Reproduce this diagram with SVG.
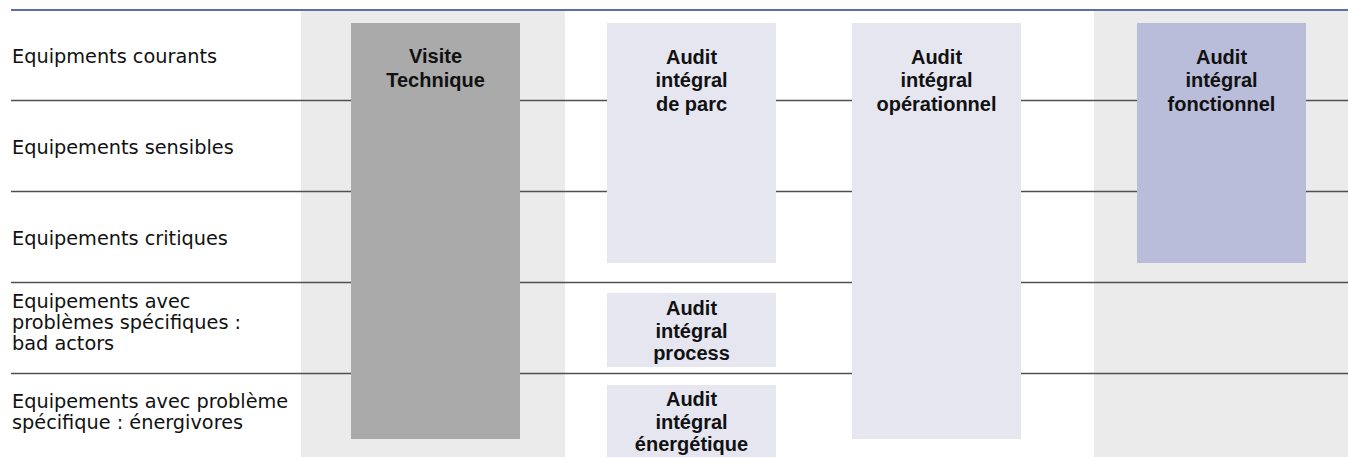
<svg xmlns="http://www.w3.org/2000/svg" width="1348" height="457" viewBox="0 0 1348 457">
<style>
.lbl{font-family:"DejaVu Sans","Liberation Sans",sans-serif;font-size:19.3px;fill:#111}
.box{font-family:"Liberation Sans",Arial,sans-serif;font-size:20px;font-weight:bold;fill:#111;text-anchor:middle}
.row{stroke:#505050;stroke-width:1.4;fill:none}
.lav{fill:#e6e6f1}
</style>
<rect width="1348" height="457" fill="#ffffff"/>
<g id="bands">
<rect x="301" y="10" width="264" height="447" fill="#ebebeb"/>
<rect x="1094" y="10" width="254" height="447" fill="#ebebeb"/>
</g>
<g id="connectors">
<line x1="11" y1="10" x2="1348" y2="10" stroke="#5b6fa6" stroke-width="2"/>
<line class="row" x1="11" y1="100.5" x2="1348" y2="100.5"/>
<line class="row" x1="11" y1="191.5" x2="1348" y2="191.5" stroke="#222"/>
<line class="row" x1="11" y1="282.5" x2="1348" y2="282.5" stroke-width="1.7"/>
<line class="row" x1="11" y1="373.5" x2="1348" y2="373.5" stroke-width="1.7"/>
</g>
<g id="row-courants"><text class="lbl" x="12" y="62.7">Equipments courants</text></g>
<g id="row-sensibles"><text class="lbl" x="12" y="154.3">Equipements sensibles</text></g>
<g id="row-critiques"><text class="lbl" x="12" y="245">Equipements critiques</text></g>
<g id="row-bad-actors"><text class="lbl" x="12" y="308.3">Equipements avec</text><text class="lbl" x="12" y="329.3">problèmes spécifiques :</text><text class="lbl" x="12" y="350.3">bad actors</text></g>
<g id="row-energivores"><text class="lbl" x="12" y="408.3">Equipements avec problème</text><text class="lbl" x="12" y="429.3">spécifique : énergivores</text></g>
<g id="visite-technique">
<rect x="351" y="23" width="169" height="416" fill="#aaaaaa"/>
<text class="box" x="435.5" y="63">Visite</text><text class="box" x="435.5" y="86.5">Technique</text>
</g>
<g id="audit-parc">
<rect class="lav" x="607" y="23" width="169" height="240"/>
<text class="box" x="691.5" y="63.5">Audit</text><text class="box" x="691.5" y="87">intégral</text><text class="box" x="691.5" y="110.5">de parc</text>
</g>
<g id="audit-process">
<rect class="lav" x="607" y="293" width="169" height="74"/>
<text class="box" x="691.5" y="315">Audit</text><text class="box" x="691.5" y="338">intégral</text><text class="box" x="691.5" y="360">process</text>
</g>
<g id="audit-energetique">
<rect class="lav" x="607" y="385" width="169" height="72"/>
<text class="box" x="691.5" y="406">Audit</text><text class="box" x="691.5" y="428.5">intégral</text><text class="box" x="691.5" y="451">énergétique</text>
</g>
<g id="audit-operationnel">
<rect class="lav" x="852" y="23" width="169" height="416"/>
<text class="box" x="936.5" y="63.5">Audit</text><text class="box" x="936.5" y="87">intégral</text><text class="box" x="936.5" y="110.5">opérationnel</text>
</g>
<g id="audit-fonctionnel">
<rect x="1137" y="23" width="169" height="240" fill="#babdda"/>
<text class="box" x="1221.5" y="63.5">Audit</text><text class="box" x="1221.5" y="87">intégral</text><text class="box" x="1221.5" y="110.5">fonctionnel</text>
</g>
</svg>
